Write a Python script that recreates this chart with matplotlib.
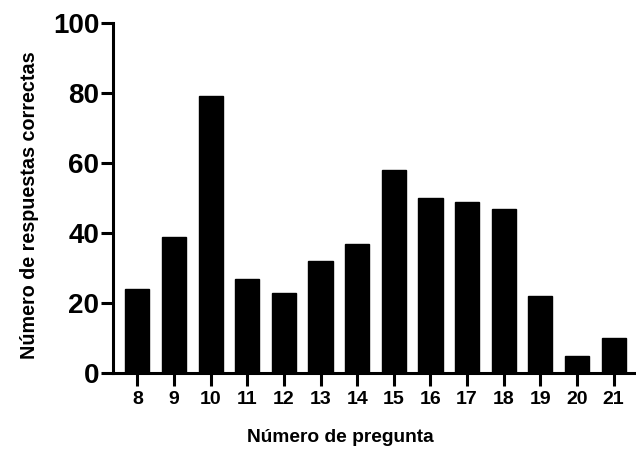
import matplotlib
matplotlib.use("Agg")
import matplotlib.pyplot as plt

preguntas = [8, 9, 10, 11, 12, 13, 14, 15, 16, 17, 18, 19, 20, 21]
respuestas = [24, 39, 79, 27, 23, 32, 37, 58, 50, 49, 47, 22, 5, 10]
yticks = [0, 20, 40, 60, 80, 100]

plt.rcParams['font.family'] = ['Liberation Sans', 'DejaVu Sans']

fig = plt.figure(figsize=(6.36, 4.49), dpi=100)
ax = fig.add_axes([0.178, 0.169, 0.83, 0.780])
ax.bar(preguntas, respuestas, width=0.66, color='black', edgecolor='black')
ax.set_xlim(7.34, 21.75)
ax.set_ylim(0, 100)
ax.set_yticks(yticks)
ax.set_xticks(preguntas)
ax.spines['top'].set_visible(False)
ax.spines['right'].set_visible(False)
for s in ['left', 'bottom']:
    ax.spines[s].set_linewidth(2.2)
ax.tick_params(axis='y', length=9, width=2.2, labelsize=20, pad=1)
ax.tick_params(axis='x', length=9, width=2.2, labelsize=14, pad=4)
for lab in ax.get_yticklabels() + ax.get_xticklabels():
    lab.set_fontweight('bold')
fig.text(340 / 636, 1 - 437 / 449, 'Número de pregunta', fontsize=13.8,
         fontweight='bold', ha='center', va='center')
fig.text(30 / 636, 1 - 205 / 449, 'Número de respuestas correctas', fontsize=14.2,
         fontweight='bold', ha='center', va='center', rotation=90)
fig.savefig('out.png', dpi=100)
